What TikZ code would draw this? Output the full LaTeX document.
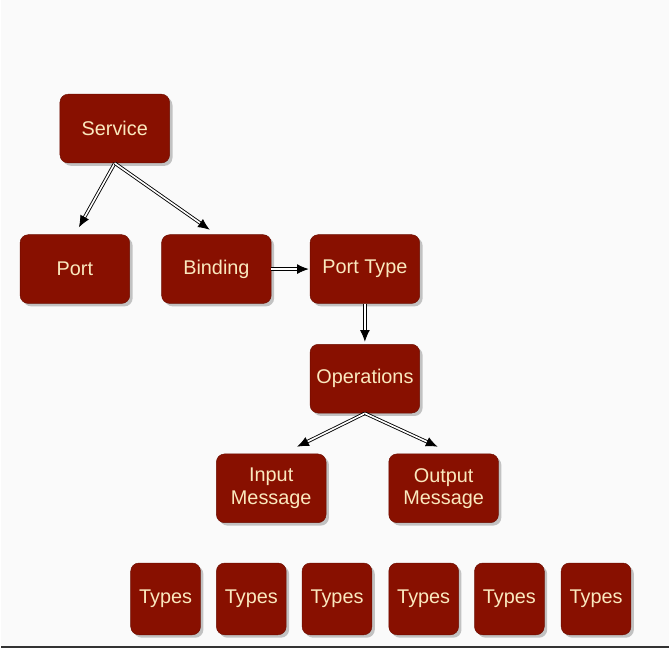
\documentclass[tikz,border=0pt]{standalone}
\usepackage{fontspec}
\setmainfont{Liberation Sans}
\usetikzlibrary{arrows.meta,shadows}
\definecolor{boxred}{RGB}{136,16,0}
\definecolor{boxtext}{RGB}{250,232,190}

\begin{document}
\begin{tikzpicture}[x=0.03cm,y=-0.03cm,
    wsdl/.style={draw=boxred!80!black, fill=boxred, text=boxtext, rounded corners=7pt,
      minimum width=3.3cm, minimum height=2.07cm, align=center,
      font=\fontsize{17}{19}\selectfont,
      drop shadow={shadow xshift=2.5pt, shadow yshift=-2.5pt, fill=black!45}},
    typ/.style={wsdl, minimum width=2.1cm, minimum height=2.16cm},
    link/.style={draw=black, line width=0.75pt, double=white, double distance=1.4pt,
      -{Latex[length=10pt,width=8.5pt]}}]

      \fill[black!2] (0,0) rectangle (670,650);
      \draw[black!80, line width=2pt] (0,649) -- (670,649);

      \node[wsdl] (service) at (114,129) {Service};
      \node[wsdl] (port) at (74,270) {Port};
      \node[wsdl] (binding) at (216,270) {Binding};
      \node[wsdl] (porttype) at (365,270) {Port Type};
      \node[wsdl] (operations) at (365,380) {Operations};
      \node[wsdl] (input) at (271,490) {Input\\Message};
      \node[wsdl] (output) at (444,490) {Output\\Message};

      \foreach \x [count=\i] in {165,251,337,424,510,597}
        \node[typ] (types\i) at (\x,601) {Types};

      \draw[link, shorten >=7pt] (service.south) -- (port.north);
      \draw[link, shorten >=7pt] (service.south) -- (binding.north);
      \draw[link, shorten >=1pt] (binding.east) -- (porttype.west);
      \draw[link, shorten >=2pt] (porttype.south) -- (operations.north);
      \draw[link] (operations.south) -- ([shift={(26,-7)}]input.north);
      \draw[link] (operations.south) -- ([shift={(-6,-7)}]output.north);

    \end{tikzpicture}
\end{document}
